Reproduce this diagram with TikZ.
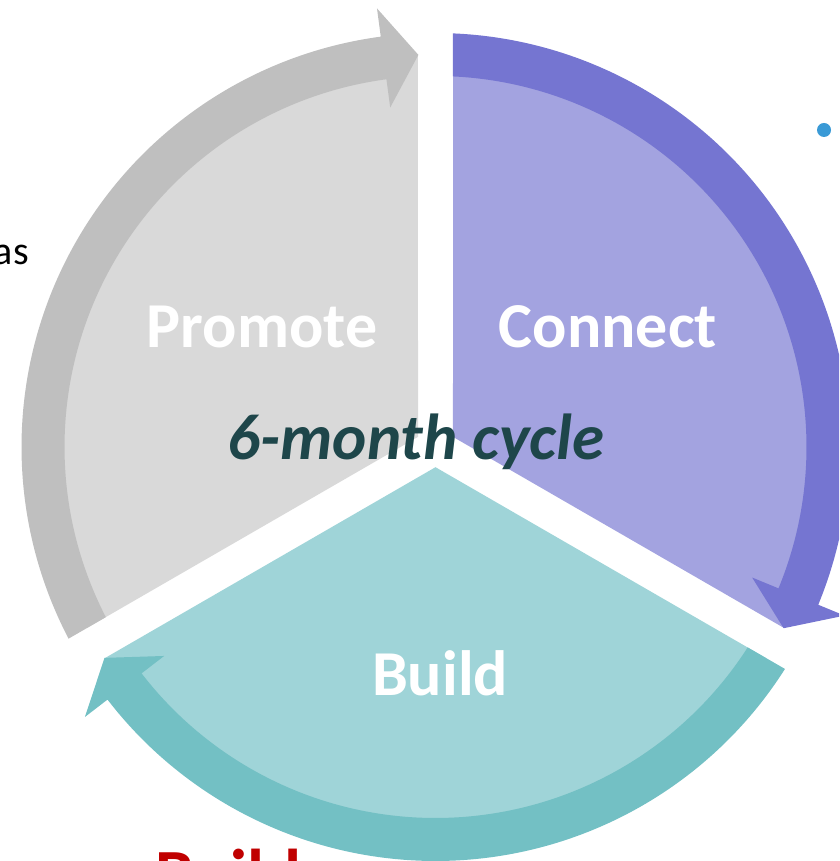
\documentclass[tikz,border=0pt]{standalone}
\usepackage{fontspec}
\setmainfont{Carlito}
\usetikzlibrary{positioning}
\usepackage{xcolor}
\definecolor{promotelight}{HTML}{D9D9D9}
\definecolor{promotedark}{HTML}{BFBFBF}
\definecolor{connectlight}{HTML}{A3A3E0}
\definecolor{connectdark}{HTML}{7575D1}
\definecolor{buildlight}{HTML}{9FD4D8}
\definecolor{builddark}{HTML}{73C0C4}
\definecolor{cycletext}{HTML}{1E464A}
\definecolor{bulletblue}{HTML}{3A9AD6}
\definecolor{buildred}{HTML}{C00000}
\def\rin{371pt}
\def\rout{414pt}
\def\rmid{392.5pt}
\def\rwedge{392.5pt}
\def\rheadout{442.5pt}
\def\rheadin{342.5pt}

\begin{document}
\begin{tikzpicture}[x=1pt,y=1pt]
    \tikzstyle{label}=[text=white, font=\fontsize{64}{64}\selectfont\bfseries, anchor=base]
    \tikzstyle{title}=[text=cycletext, font=\fontsize{65}{65}\selectfont\bfseries\itshape, anchor=base]
    \tikzstyle{backtext}=[font=\fontsize{40}{40}\selectfont, inner sep=0pt]

    \useasboundingbox (-435.5,-414) rectangle (403.5,447);
    \clip (-435.5,-414) rectangle (403.5,447);

%   text of the slide behind the cycle
    \node[backtext, anchor=base east] (as) at (-406.5,182) {as};
    \node[circle, fill=bulletblue, minimum size=14pt, inner sep=0pt] (bullet) at (388.5,317) {};
    \node[backtext, text=buildred, font=\fontsize{69}{69}\selectfont\bfseries, anchor=base west] (buildred) at (-280.5,-450) {Build};

%   one wedge and one arrow for every segment, \lo is the gap at the tip
	\foreach \lo/\light/\dark in {90/promotelight/promotedark, -30/connectlight/connectdark, 210/buildlight/builddark}{
		\pgfmathsetmacro\a{\lo+2.56}
		\pgfmathsetmacro\b{\lo+117.44}
		\pgfmathsetmacro\tailout{\lo+117.58}
		\pgfmathsetmacro\tailin{\lo+117.3}
		\pgfmathsetmacro\base{\lo+7.6}
		\pgfmathsetmacro\tip{\lo+2.5}
		\fill[\light] (\lo+60:20.2pt) -- (\a:\rwedge) arc[start angle=\a, end angle=\b, radius=\rwedge] -- cycle;
		\fill[\dark] (\tailout:\rout) arc[start angle=\tailout, end angle=\base, radius=\rout]
			-- (\base:\rheadout) -- (\tip:\rmid) -- (\base:\rheadin)
			-- (\base:\rin) arc[start angle=\base, end angle=\tailin, radius=\rin] -- cycle;
	}

	\node[label] (promote) at (-173.5,99) {Promote};
	\node[label] (connect) at (172.5,99) {Connect};
	\node[label] (build) at (4.5,-248) {Build};
	\node[title] (cycle) at (-19.5,-13) {6-month cycle};
\end{tikzpicture}
\end{document}
